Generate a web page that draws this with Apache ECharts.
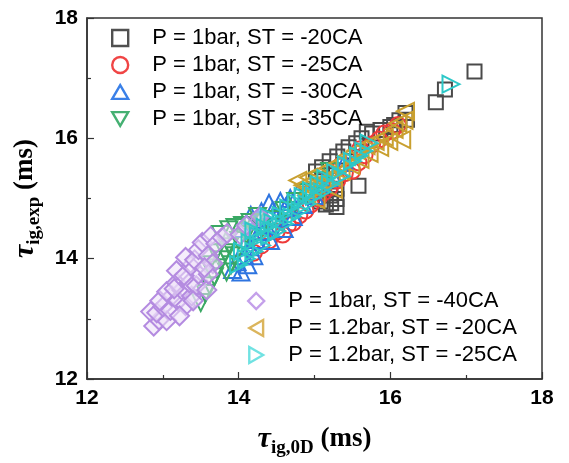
<!DOCTYPE html>
<html>
<head>
<meta charset="utf-8">
<script src="https://cdn.jsdelivr.net/npm/echarts@6/dist/echarts.min.js"></script>
<style>
  html, body { margin: 0; padding: 0; background: #fff; }
  #chart { width: 569px; height: 463px; }
</style>
</head>
<body>
<div id="chart"></div>
<script>
// Ignition delay: 0D model prediction (x) vs experiment (y), ms
const seriesNames = [
  'P = 1bar, ST = -20CA',
  'P = 1bar, ST = -25CA',
  'P = 1bar, ST = -30CA',
  'P = 1bar, ST = -35CA',
  'P = 1bar, ST = -40CA',
  'P = 1.2bar, ST = -20CA',
  'P = 1.2bar, ST = -25CA'
];

const xTicks = [12, 14, 16, 18];
const yTicks = [12, 14, 16, 18];

const p1_st20 = [
  [17.11, 17.11], [16.72, 16.81], [16.60, 16.60], [16.20, 16.42], [16.22, 16.31],
  [16.12, 16.30], [16.05, 16.22], [16.00, 16.19], [15.87, 16.14], [15.76, 16.08],
  [15.69, 16.11], [15.62, 16.00], [15.55, 15.92], [15.45, 15.85], [15.38, 15.78],
  [15.30, 15.70], [15.20, 15.62], [15.10, 15.52], [15.02, 15.45], [15.58, 15.21],
  [15.29, 15.16], [15.29, 14.99], [15.29, 14.86], [15.21, 15.05], [15.22, 14.92],
  [15.08, 14.95], [15.15, 14.90]
];

const p1_st25 = [
  [14.20, 14.10], [14.30, 14.22], [14.40, 14.30], [14.50, 14.45], [14.58, 14.40],
  [14.65, 14.56], [14.72, 14.60], [14.80, 14.72], [14.88, 14.80], [14.95, 14.90],
  [15.05, 15.00], [15.12, 15.10], [15.20, 15.18], [15.30, 15.30], [15.40, 15.42],
  [15.50, 15.46], [15.58, 15.60], [15.66, 15.72], [15.76, 15.90], [15.85, 15.98],
  [15.92, 16.08], [16.02, 16.12], [16.10, 16.22], [15.60, 15.82], [15.35, 15.55]
];

const p1_st30 = [
  [13.92, 13.82], [13.98, 13.95], [14.03, 13.78], [14.08, 14.05], [14.12, 13.90],
  [14.15, 14.20], [14.20, 14.05], [14.22, 14.32], [14.16, 14.72], [14.26, 14.65],
  [14.30, 14.45], [14.36, 14.55], [14.40, 14.92], [14.45, 14.80], [14.42, 14.30],
  [14.50, 14.68], [14.55, 14.95], [14.60, 14.50], [14.62, 14.85], [14.68, 15.00],
  [14.72, 14.70], [14.78, 15.08], [14.85, 14.90], [14.90, 15.12], [15.00, 15.05],
  [15.10, 15.25], [15.25, 15.35], [15.40, 15.60], [14.05, 14.50], [14.30, 14.78]
];

const p1_st35 = [
  [13.50, 13.27], [13.56, 13.42], [13.62, 13.55], [13.68, 13.70], [13.72, 13.85],
  [13.78, 13.98], [13.82, 14.10], [13.88, 14.20], [13.84, 13.78], [13.90, 13.90],
  [13.95, 14.05], [13.76, 14.40], [13.87, 14.48], [13.95, 14.52], [14.05, 14.55],
  [14.15, 14.60], [14.25, 14.70], [14.00, 14.30], [14.10, 14.40], [14.30, 14.50],
  [14.45, 14.65], [14.60, 14.80], [14.75, 14.95], [14.90, 15.10], [15.05, 15.30],
  [15.20, 15.45], [13.70, 14.10], [13.60, 13.90]
];

const p1_st40 = [
  [12.88, 12.88], [12.95, 12.98], [13.05, 12.97], [12.84, 13.12], [12.92, 13.10],
  [13.00, 13.20], [12.96, 13.30], [13.10, 13.14], [13.12, 13.38], [13.20, 13.30],
  [13.05, 13.45], [13.25, 13.48], [13.18, 13.60], [13.30, 13.22], [13.38, 13.38],
  [13.35, 13.60], [13.44, 13.55], [13.58, 13.48], [13.47, 13.74], [13.18, 13.80],
  [13.28, 13.72], [13.37, 13.88], [13.30, 14.02], [13.42, 13.98], [13.47, 14.15],
  [13.52, 14.27], [13.60, 14.05], [13.63, 14.37], [13.70, 14.25], [13.66, 13.92],
  [13.60, 13.74], [13.55, 13.85], [13.78, 14.35], [13.85, 14.42], [14.02, 14.40],
  [14.10, 14.55], [14.28, 14.70], [13.15, 13.50], [13.22, 13.05], [13.40, 13.30]
];

const p12_st20 = [
  [14.78, 15.30], [14.85, 15.22], [14.92, 15.35], [14.98, 15.18], [15.05, 15.42],
  [15.10, 15.30], [15.18, 15.50], [15.22, 15.35], [15.30, 15.58], [15.35, 15.45],
  [15.42, 15.70], [15.48, 15.55], [15.55, 15.80], [15.60, 15.65], [15.68, 15.88],
  [15.72, 15.75], [15.80, 15.95], [15.86, 15.85], [15.92, 16.02], [15.98, 15.95],
  [16.05, 16.15], [16.15, 15.98], [16.20, 16.45], [16.18, 16.30], [16.10, 16.25],
  [15.02, 14.98], [14.90, 15.05], [15.25, 15.15]
];

const p12_st25 = [
  [14.00, 13.90], [14.05, 14.12], [14.10, 14.00], [14.15, 14.27], [14.20, 14.12],
  [14.26, 14.38], [14.30, 14.22], [14.35, 14.52], [14.41, 14.38], [14.45, 14.60],
  [14.50, 14.46], [14.56, 14.72], [14.60, 14.58], [14.66, 14.84], [14.70, 14.70],
  [14.76, 14.93], [14.81, 14.80], [14.85, 15.03], [14.90, 14.91], [14.96, 15.13],
  [15.00, 15.04], [15.06, 15.23], [15.10, 15.11], [15.15, 15.33], [15.21, 15.24],
  [15.28, 15.43], [15.35, 15.37], [15.42, 15.56], [15.50, 15.62], [15.58, 15.71],
  [15.65, 15.79], [15.72, 15.92], [16.80, 16.90], [14.20, 14.46], [14.40, 14.70]
];

const seriesData = [p1_st20, p1_st25, p1_st30, p1_st35, p1_st40, p12_st20, p12_st25];

// legend icon shapes (triangles drawn equilateral, pointing in the marker direction)
const triUp = 'path://M10,0L20,17.3L0,17.3Z';
const triDown = 'path://M0,0L20,0L10,17.3Z';
const triLeft = 'path://M0,10L17.3,0L17.3,20Z';
const triRight = 'path://M0,0L17.3,10L0,20Z';

const markStyles = [
  { symbol: 'rect',     rotate: 0,   size: 14, icon: 'rect',    stroke: '#4a4a4a', fill: 'rgba(0,0,0,0)',          legendStroke: '#505050' },
  { symbol: 'circle',   rotate: 0,   size: 16, icon: 'circle',  stroke: '#ee3a3a', fill: 'rgba(0,0,0,0)',          legendStroke: '#f04545' },
  { symbol: 'triangle', rotate: 0,   size: 17, icon: triUp,     stroke: '#2e74e0', fill: 'rgba(0,0,0,0)',          legendStroke: '#3a80e8' },
  { symbol: 'triangle', rotate: 180, size: 17, icon: triDown,   stroke: '#3aa864', fill: 'rgba(0,0,0,0)',          legendStroke: '#45b072' },
  { symbol: 'diamond',  rotate: 0,   size: 19, icon: 'diamond', stroke: '#b48be0', fill: 'rgba(236,224,248,0.55)', legendStroke: '#c4a0ea' },
  { symbol: 'triangle', rotate: 90,  size: 17, icon: triLeft,   stroke: '#c9a030', fill: 'rgba(0,0,0,0)',          legendStroke: '#dbb55c' },
  { symbol: 'triangle', rotate: -90, size: 17, icon: triRight,  stroke: '#2cc8c8', fill: 'rgba(0,0,0,0)',          legendStroke: '#70e2e2' }
];

const series = seriesData.map((data, i) => ({
  name: seriesNames[i],
  type: 'scatter',
  data: data,
  symbol: markStyles[i].symbol,
  symbolRotate: markStyles[i].rotate,
  symbolSize: markStyles[i].size,
  itemStyle: { color: markStyles[i].fill, borderColor: markStyles[i].stroke, borderWidth: 2, opacity: 1 },
  emphasis: { disabled: true },
  z: 2 + i
}));

const legendItem = (i) => ({
  name: seriesNames[i],
  icon: markStyles[i].icon,
  itemStyle: { color: 'rgba(0,0,0,0)', borderColor: markStyles[i].legendStroke, borderWidth: 2.4 }
});

const legendText = { fontFamily: 'Liberation Sans, Arial, sans-serif', fontSize: 22, color: '#000', padding: [0, 0, 0, 19] };

const tickFont = { fontFamily: 'Liberation Sans, Arial, sans-serif', fontWeight: 'bold', fontSize: 21, color: '#000' };

const serif = 'Liberation Serif, Times New Roman, serif';
const titleRich = {
  t: { fontFamily: serif, fontStyle: 'italic', fontWeight: 'bold', fontSize: 30, color: '#000' },
  s: { fontFamily: serif, fontWeight: 'bold', fontSize: 19, color: '#000', padding: [18, 0, 0, 0] },
  m: { fontFamily: serif, fontWeight: 'bold', fontSize: 27, color: '#000' }
};

const axisCommon = {
  type: 'value',
  min: 12,
  max: 18,
  interval: 2,
  axisLine: { show: true, onZero: false, lineStyle: { color: '#333', width: 1.5 } },
  axisTick: { show: true, inside: true, length: 7, lineStyle: { color: '#333', width: 1.2 } },
  minorTick: { show: true, splitNumber: 2, length: 4, lineStyle: { color: '#333', width: 1.2 } },
  splitLine: { show: false },
  minorSplitLine: { show: false },
  nameLocation: 'middle'
};

const chart = echarts.init(document.getElementById('chart'), null, { renderer: 'canvas' });
chart.setOption({
  animation: false,
  backgroundColor: '#fff',
  grid: { left: 87, right: 27, top: 18, bottom: 78, show: true, borderColor: '#333', borderWidth: 1.5, backgroundColor: 'rgba(0,0,0,0)' },
  xAxis: Object.assign({}, axisCommon, {
    axisLabel: Object.assign({ margin: 9, formatter: (v) => (xTicks.includes(v) ? String(v) : '') }, tickFont),
    name: '{t|τ}{s|ig,0D}{m| (ms)}',
    nameGap: 42,
    nameTextStyle: { rich: titleRich }
  }),
  yAxis: Object.assign({}, axisCommon, {
    axisLabel: Object.assign({ margin: 9, formatter: (v) => (yTicks.includes(v) ? String(v) : '') }, tickFont),
    name: '{t|τ}{s|ig,exp}{m| (ms)}',
    nameGap: 42,
    nameTextStyle: { rich: titleRich }
  }),
  legend: [
    {
      orient: 'vertical',
      left: 106,
      top: 22,
      itemWidth: 16,
      itemHeight: 16,
      itemGap: 5,
      symbolKeepAspect: true,
      textStyle: legendText,
      data: [0, 1, 2, 3].map(legendItem)
    },
    {
      orient: 'vertical',
      left: 242,
      top: 285,
      itemWidth: 16,
      itemHeight: 16,
      itemGap: 5,
      symbolKeepAspect: true,
      textStyle: legendText,
      data: [4, 5, 6].map(legendItem)
    }
  ],
  series: series
});
</script>
</body>
</html>
